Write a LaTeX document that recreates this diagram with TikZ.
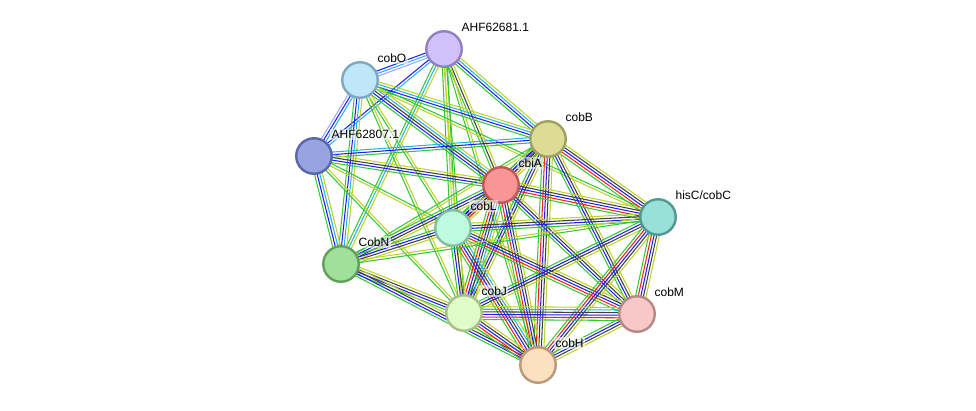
\documentclass[tikz,border=0pt]{standalone}
\usepackage{fontspec}
\setmainfont{Liberation Sans}
\usetikzlibrary{calc,backgrounds}
% evidence colours
\definecolor{sG}{RGB}{52,200,52}
\definecolor{sB}{RGB}{30,30,250}
\definecolor{sC}{RGB}{40,180,225}
\definecolor{sK}{RGB}{64,64,64}
\definecolor{sR}{RGB}{250,30,30}
\definecolor{sY}{RGB}{190,210,40}
\definecolor{sL}{RGB}{165,165,255}

\tikzset{
  prot/.style={circle, line width=2.4pt, minimum size=35.5pt, inner sep=0pt},
  lbl/.style={font=\fontsize{12}{14}\selectfont, inner sep=1.2pt, text=black,
    fill=white, fill opacity=0.55, text opacity=1},
  every label/.style={lbl, label distance=4pt},
}

% one bundle of parallel evidence lines between two proteins
\newcommand{\strlink}[3]{%
  \foreach \c [count=\i] in {#3} {\xdef\nlines{\i}}%
  \foreach \c [count=\i] in {#3} {%
    \pgfmathsetmacro{\off}{(\i-(\nlines+1)/2)*2.6}%
    \draw[\c, line width=1.05pt] ($(#1)!\off pt!90:(#2)$) -- ($(#2)!\off pt!-90:(#1)$);
  }}

\begin{document}
\begin{tikzpicture}[x=1pt, y=-1pt]
\useasboundingbox (0,0) rectangle (976,410);

\node[prot, fill={rgb,255:red,210;green,192;blue,250}, draw={rgb,255:red,144;green,128;blue,196}, label={45:AHF62681.1}] (ahfa) at (444,49) {};
\node[prot, fill={rgb,255:red,192;green,230;blue,250}, draw={rgb,255:red,126;green,168;blue,192}, label={45:cobO}] (cobO) at (360,80) {};
\node[prot, fill={rgb,255:red,152;green,164;blue,224}, draw={rgb,255:red,88;green,104;blue,168}, label={45:AHF62807.1}] (ahfb) at (314,156) {};
\node[prot, fill={rgb,255:red,220;green,220;blue,150}, draw={rgb,255:red,160;green,160;blue,96}, label={45:cobB}] (cobB) at (548,139) {};
\node[prot, fill={rgb,255:red,251;green,149;blue,149}, draw={rgb,255:red,192;green,88;blue,88}, label={45:cbiA}] (cbiA) at (501,185) {};
\node[prot, fill={rgb,255:red,192;green,250;blue,224}, draw={rgb,255:red,128;green,192;blue,160}, label={45:cobL}] (cobL) at (453,228) {};
\node[prot, fill={rgb,255:red,152;green,224;blue,216}, draw={rgb,255:red,80;green,152;blue,144}, label={45:hisC/cobC}] (hisC) at (658,217) {};
\node[prot, fill={rgb,255:red,160;green,224;blue,152}, draw={rgb,255:red,96;green,160;blue,88}, label={45:CobN}] (cobN) at (341,264) {};
\node[prot, fill={rgb,255:red,224;green,252;blue,200}, draw={rgb,255:red,168;green,192;blue,136}, label={45:cobJ}] (cobJ) at (464,313) {};
\node[prot, fill={rgb,255:red,248;green,200;blue,200}, draw={rgb,255:red,184;green,136;blue,136}, label={45:cobM}] (cobM) at (637,314) {};
\node[prot, fill={rgb,255:red,253;green,224;blue,192}, draw={rgb,255:red,184;green,154;blue,120}, label={45:cobH}] (cobH) at (538,365) {};

\begin{scope}[on background layer]
\strlink{ahfa}{cobO}{sB,sC,sL}
\strlink{ahfa}{ahfb}{sB,sC}
\strlink{ahfa}{cobB}{sG,sB,sC,sY}
\strlink{ahfa}{cbiA}{sG,sK,sY}
\strlink{ahfa}{cobL}{sG,sY,sG}
\strlink{ahfa}{cobN}{sG,sC,sY}
\strlink{ahfa}{cobJ}{sY,sG}
\strlink{ahfa}{cobH}{sG,sY}
\strlink{cobO}{ahfb}{sL,sB,sC}
\strlink{cobO}{cobB}{sG,sB,sC,sY}
\strlink{cobO}{cbiA}{sG,sB,sK,sC,sY}
\strlink{cobO}{cobL}{sG,sY}
\strlink{cobO}{cobN}{sG,sB,sC,sY}
\strlink{cobO}{cobJ}{sG,sY}
\strlink{cobO}{hisC}{sY,sG}
\strlink{ahfb}{cobB}{sG,sB,sC}
\strlink{ahfb}{cbiA}{sG,sB,sK,sY}
\strlink{ahfb}{cobN}{sG,sB,sC,sY}
\strlink{ahfb}{cobJ}{sG,sY}
\strlink{ahfb}{cobL}{sY,sG}
\strlink{cobB}{cbiA}{sG,sB,sK,sR,sY}
\strlink{cobB}{hisC}{sG,sR,sB,sK,sY}
\strlink{cobB}{cobL}{sG,sB,sK,sY}
\strlink{cobB}{cobJ}{sG,sB,sK,sY}
\strlink{cobB}{cobM}{sG,sB,sK,sY}
\strlink{cobB}{cobH}{sG,sR,sB,sK,sY}
\strlink{cobB}{cobN}{sG,sY}
\strlink{cbiA}{hisC}{sG,sR,sB,sK,sY}
\strlink{cbiA}{cobL}{sG,sB,sK,sR,sY}
\strlink{cbiA}{cobN}{sG,sB,sK,sY}
\strlink{cbiA}{cobJ}{sG,sR,sB,sK,sC,sY}
\strlink{cbiA}{cobM}{sG,sB,sK,sY}
\strlink{cbiA}{cobH}{sG,sR,sB,sK,sY}
\strlink{cobL}{hisC}{sG,sB,sK,sY}
\strlink{cobL}{cobN}{sG,sB,sK,sY}
\strlink{cobL}{cobJ}{sG,sB,sK,sY}
\strlink{cobL}{cobM}{sG,sR,sB,sK,sY}
\strlink{cobL}{cobH}{sG,sR,sB,sK,sC,sY}
\strlink{hisC}{cobN}{sY,sG}
\strlink{hisC}{cobJ}{sG,sB,sK,sY}
\strlink{hisC}{cobM}{sG,sR,sB,sK,sY}
\strlink{hisC}{cobH}{sG,sR,sB,sK,sY}
\strlink{cobN}{cobJ}{sG,sB,sK,sY}
\strlink{cobN}{cobH}{sG,sB,sK,sY}
\strlink{cobJ}{cobM}{sG,sR,sB,sK,sC,sY}
\strlink{cobJ}{cobH}{sG,sR,sB,sK,sY}
\strlink{cobM}{cobH}{sG,sB,sK,sY}
\end{scope}
\end{tikzpicture}
\end{document}
